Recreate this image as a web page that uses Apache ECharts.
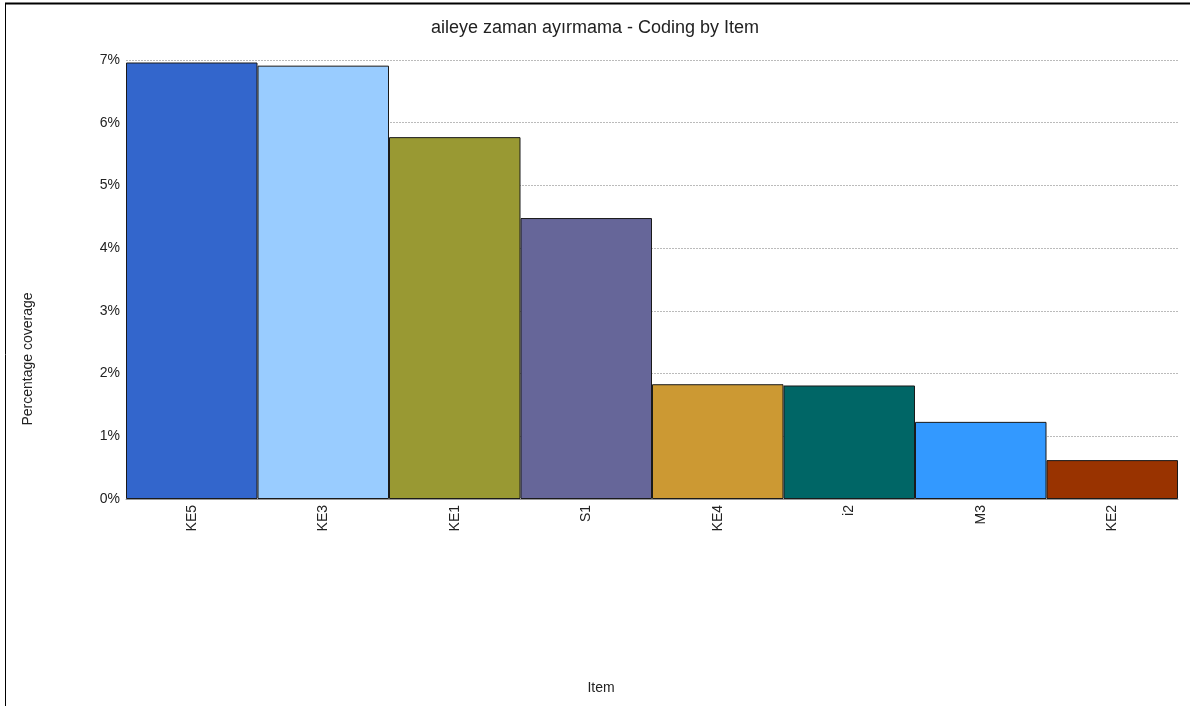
<!DOCTYPE html>
<html>
<head>
<meta charset="utf-8">
<script src="https://cdn.jsdelivr.net/npm/echarts@6/dist/echarts.min.js"></script>
<style>
html,body{margin:0;padding:0;background:#fff;}
#main{width:1190px;height:706px;}
</style>
</head>
<body>
<div id="main"></div>
<script>
const titleText = 'aileye zaman ayırmama - Coding by Item';
const xAxisTitle = 'Item';
const yAxisTitle = 'Percentage coverage';
const categories = ['KE5', 'KE3', 'KE1', 'S1', 'KE4', 'i2', 'M3', 'KE2'];
const values = [6.96, 6.91, 5.77, 4.48, 1.83, 1.81, 1.23, 0.62];
const colors = ['#3366cc', '#99ccff', '#999933', '#666699', '#cc9933', '#006666', '#3399ff', '#993300'];
const yTicks = [0, 1, 2, 3, 4, 5, 6, 7];

const chart = echarts.init(document.getElementById('main'));
const font = 'Liberation Sans, Arial, sans-serif';
chart.setOption({
  animation: false,
  title: {
    text: titleText, left: 'center', top: 14,
    textStyle: {fontFamily: font, fontSize: 18, fontWeight: 'normal', color: '#222'}
  },
  grid: {left: 126, right: 12, top: 60, bottom: 207},
  xAxis: {
    type: 'category', data: categories,
    axisLine: {lineStyle: {color: '#999', width: 1}},
    axisTick: {show: false},
    axisLabel: {rotate: 90, fontFamily: font, fontSize: 14, color: '#222', margin: 6}
  },
  yAxis: {
    type: 'value', min: yTicks[0], max: yTicks[yTicks.length - 1], interval: 1,
    axisLine: {show: false}, axisTick: {show: false},
    axisLabel: {formatter: '{value}%', fontFamily: font, fontSize: 14, color: '#222', margin: 6},
    splitLine: {lineStyle: {color: '#bbb', type: [2, 1], width: 1}}
  },
  series: [{
    type: 'bar', barCategoryGap: 0,
    data: values.map((v, i) => ({value: v, itemStyle: {color: colors[i]}})),
    itemStyle: {borderColor: '#1a1a1a', borderWidth: 1}
  }],
  graphic: [
    {type: 'line', shape: {x1: 5, y1: 3.5, x2: 1190, y2: 3.5}, style: {stroke: '#000', lineWidth: 2}},
    {type: 'line', shape: {x1: 5.5, y1: 3, x2: 5.5, y2: 706}, style: {stroke: '#000', lineWidth: 1}},
    {type: 'text', x: 28, y: 359, rotation: Math.PI / 2,
     style: {text: yAxisTitle, fontFamily: font, fontSize: 14, fill: '#222', align: 'center', verticalAlign: 'middle'}},
    {type: 'text', x: 601, y: 688,
     style: {text: xAxisTitle, fontFamily: font, fontSize: 14, fill: '#222', align: 'center', verticalAlign: 'middle'}}
  ]
});
</script>
</body>
</html>
